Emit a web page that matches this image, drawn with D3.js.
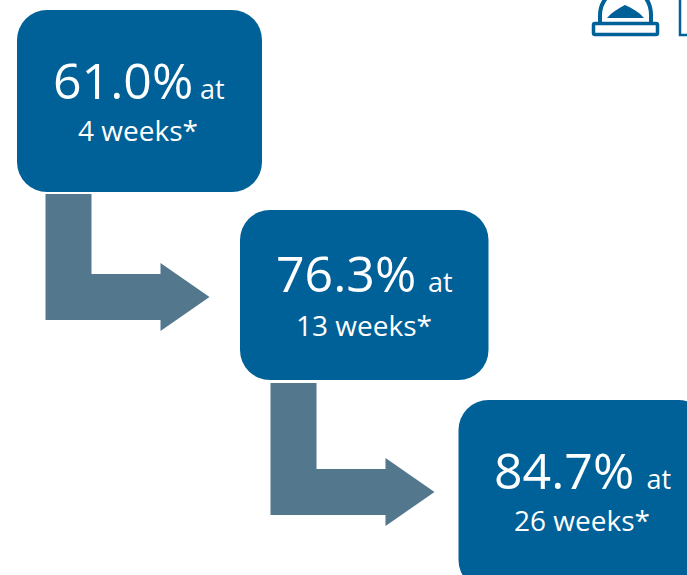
<!DOCTYPE html>
<html>
<head>
<meta charset="utf-8">
<script src="https://cdn.jsdelivr.net/npm/d3@7"></script>
<style>
    html, body { margin: 0; padding: 0; background: #fff; overflow: hidden; }
    svg { display: block; font-family: "Open Sans", sans-serif; }
</style>
</head>
<body>
<script>
const percents = ['61.0%', '76.3%', '84.7%'];
const weeks = [4, 13, 26];

const width = 687, height = 575;
const boxBlue = '#006098', arrowGrey = '#53778c';

const steps = d3.range(percents.length);
const boxLeft = d3.scaleOrdinal().domain(steps).range([17, 240, 458.5]);
const boxTop = d3.scaleOrdinal().domain(steps).range([10, 210, 400]);
const boxWidth = d3.scaleOrdinal().domain(steps).range([245, 248.5, 250]);
const boxHeight = d3.scaleOrdinal().domain(steps).range([182, 170, 190]);
const bigLeft = d3.scaleOrdinal().domain(steps).range([53, 276, 494]);
const atLeft = d3.scaleOrdinal().domain(steps).range([200, 428, 646.5]);
const bigBase = d3.scaleOrdinal().domain(steps).range([99, 292, 489]);
const smallCentre = d3.scaleOrdinal().domain(steps).range([138, 364, 582]);
const smallBase = d3.scaleOrdinal().domain(steps).range([141, 336, 531]);

const svg = d3.select('body').append('svg')
    .attr('width', width)
    .attr('height', height)
    .attr('viewBox', `0 0 ${width} ${height}`);

// bell icon, cut off by the top edge
const icon = svg.append('g').attr('class', 'icon');
icon.append('path')
    .attr('d', 'M600,23 V15 C600,6 604,-1 611,-7 H641 C648,-1 651,6 651,15 V23')
    .attr('fill', 'none')
    .attr('stroke', boxBlue)
    .attr('stroke-width', 4);
icon.append('path')
    .attr('d', 'M607,18 C612,12 619,8 625,5 C632,8 639,12 644,18 Z')
    .attr('fill', boxBlue);
icon.append('rect')
    .attr('x', 593.5).attr('y', 23.5)
    .attr('width', 64).attr('height', 11)
    .attr('rx', 1.5)
    .attr('fill', 'none')
    .attr('stroke', boxBlue)
    .attr('stroke-width', 3.5);
icon.append('path')
    .attr('d', 'M680,-2 V35 H690')
    .attr('fill', 'none')
    .attr('stroke', boxBlue)
    .attr('stroke-width', 2.5);

// elbow arrows between the boxes
const arrowLeft = d3.scaleOrdinal().domain([0, 1]).range([45.5, 270.5]);
const arrowTop = d3.scaleOrdinal().domain([0, 1]).range([194, 383]);
const arrowInner = d3.scaleOrdinal().domain([0, 1]).range([274, 469]);

svg.append('g').attr('class', 'arrows')
    .selectAll('.arrow')
    .data(steps.slice(0, -1))
    .enter().append('path')
    .attr('class', 'arrow')
    .attr('fill', arrowGrey)
    .attr('d', d => {
        const x = arrowLeft(d), y = arrowTop(d), inner = arrowInner(d);
        return `M${x},${y} H${x + 46} V${inner} H${x + 115} V${inner - 11} L${x + 164},${inner + 23} L${x + 115},${inner + 57} V${inner + 46} H${x} Z`;
    });

// boxes
const boxes = svg.append('g').attr('class', 'boxes')
    .selectAll('.box')
    .data(steps)
    .enter().append('g')
    .attr('class', 'box');

boxes.append('rect')
    .attr('x', d => boxLeft(d))
    .attr('y', d => boxTop(d))
    .attr('width', d => boxWidth(d))
    .attr('height', d => boxHeight(d))
    .attr('rx', 30)
    .attr('fill', boxBlue);

boxes.append('text')
    .attr('x', d => bigLeft(d))
    .attr('y', d => bigBase(d))
    .attr('fill', '#fff')
    .attr('font-size', 50)
    .text(d => percents[d]);

boxes.append('text')
    .attr('x', d => atLeft(d))
    .attr('y', d => bigBase(d))
    .attr('fill', '#fff')
    .attr('font-size', 27)
    .text('at');

boxes.append('text')
    .attr('x', d => smallCentre(d))
    .attr('y', d => smallBase(d))
    .attr('text-anchor', 'middle')
    .attr('fill', '#fff')
    .attr('font-size', 28)
    .text(d => `${weeks[d]} weeks*`);
</script>
</body>
</html>
